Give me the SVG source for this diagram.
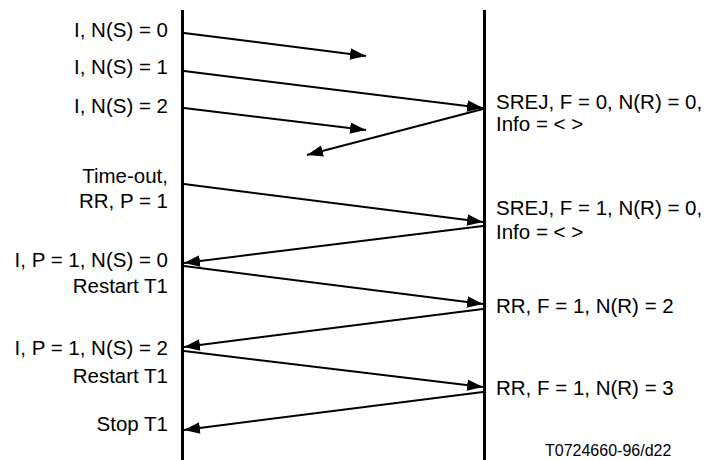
<svg xmlns="http://www.w3.org/2000/svg" width="709" height="460" viewBox="0 0 709 460">
<style>
  .lbl { font-family: "Liberation Sans", Arial, sans-serif; font-size: 20.5px; fill: #000; }
  .l { text-anchor: end; }
  .small { font-family: "Liberation Sans", Arial, sans-serif; font-size: 16px; fill: #000; }
  .life { stroke: #000; stroke-width: 3; fill: none; }
  .msg { stroke: #000; stroke-width: 2; fill: none; marker-end: url(#ah); }
</style>
<defs>
  <marker id="ah" markerUnits="userSpaceOnUse" markerWidth="16" markerHeight="12" refX="14" refY="5" orient="auto" viewBox="0 0 14 10">
    <path d="M0,0 L14,5 L0,10 z" fill="#000"/>
  </marker>
</defs>
<rect width="709" height="460" fill="#fff"/>
<g id="lifelines">
  <line class="life" x1="182.5" y1="10" x2="182.5" y2="460"/>
  <line class="life" x1="484.5" y1="10" x2="484.5" y2="460"/>
</g>
<g id="connectors">
  <line class="msg" x1="184" y1="33" x2="366" y2="56"/>
  <line class="msg" x1="184" y1="71" x2="483" y2="108"/>
  <line class="msg" x1="184" y1="108" x2="366" y2="130"/>
  <line class="msg" x1="483" y1="109" x2="307" y2="155"/>
  <line class="msg" x1="184" y1="184" x2="483" y2="222"/>
  <line class="msg" x1="483" y1="226" x2="184" y2="263"/>
  <line class="msg" x1="184" y1="266" x2="483" y2="304"/>
  <line class="msg" x1="483" y1="309" x2="184" y2="347"/>
  <line class="msg" x1="184" y1="351" x2="483" y2="387"/>
  <line class="msg" x1="483" y1="392" x2="184" y2="430"/>
</g>
<g id="left-labels">
  <text class="lbl l" x="168" y="37">I, N(S) = 0</text>
  <text class="lbl l" x="168" y="74">I, N(S) = 1</text>
  <text class="lbl l" x="168" y="113">I, N(S) = 2</text>
  <text class="lbl l" x="168" y="183">Time-out,</text>
  <text class="lbl l" x="168" y="208">RR, P = 1</text>
  <text class="lbl l" x="168" y="267">I, P = 1, N(S) = 0</text>
  <text class="lbl l" x="168" y="293">Restart T1</text>
  <text class="lbl l" x="168" y="355">I, P = 1, N(S) = 2</text>
  <text class="lbl l" x="168" y="383">Restart T1</text>
  <text class="lbl l" x="168" y="431">Stop T1</text>
</g>
<g id="right-labels">
  <text class="lbl" x="496" y="109">SREJ, F = 0, N(R) = 0,</text>
  <text class="lbl" x="496" y="131">Info = &lt;  &gt;</text>
  <text class="lbl" x="496" y="215">SREJ, F = 1, N(R) = 0,</text>
  <text class="lbl" x="496" y="239">Info = &lt;  &gt;</text>
  <text class="lbl" x="496" y="313">RR, F = 1, N(R) = 2</text>
  <text class="lbl" x="496" y="395">RR, F = 1, N(R) = 3</text>
  <text class="small" x="545" y="456">T0724660-96/d22</text>
</g>
</svg>
